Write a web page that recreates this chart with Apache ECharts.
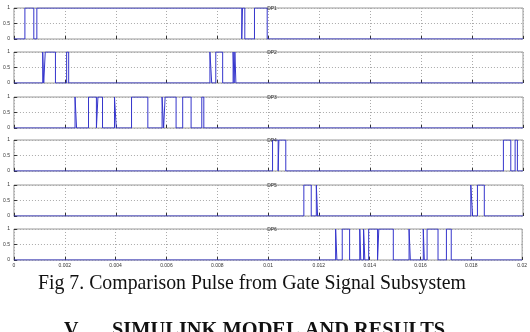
<!DOCTYPE html>
<html>
<head>
<meta charset="utf-8">
<script src="https://cdn.jsdelivr.net/npm/echarts@6/dist/echarts.min.js"></script>
<style>
  html, body { margin: 0; padding: 0; background: #ffffff; }
  #chart { width: 530px; height: 332px; }
</style>
</head>
<body>
<div id="chart"></div>
<script>
// switching instants (s) of each gate pulse, every trace starts low
var dp1Edges = [0.00043, 0.00078, 0.0009, 0.00895, 0.00898, 0.00907, 0.00945, 0.00995]
var dp2Edges = [0.00113, 0.00117, 0.00123, 0.00163, 0.00207, 0.00215, 0.0077, 0.00777,
  0.00793, 0.0082, 0.00861, 0.00865, 0.00868, 0.00872]
var dp3Edges = [0.0024, 0.00246, 0.00293, 0.00324, 0.0033, 0.00348, 0.00395, 0.00402,
  0.00462, 0.00526, 0.00582, 0.00588, 0.00594, 0.00637, 0.00663, 0.00696, 0.00738, 0.00746]
var dp4Edges = [0.01016, 0.01038, 0.01041, 0.01068, 0.01923, 0.01952, 0.01969, 0.01978]
var dp5Edges = [0.01139, 0.01168, 0.01188, 0.01193, 0.01795, 0.01802, 0.01821, 0.01848]
var dp6Edges = [0.01266, 0.01271, 0.01292, 0.01321, 0.01361, 0.01365, 0.01376, 0.01381,
  0.01396, 0.01431, 0.01436, 0.01493, 0.01555, 0.0156, 0.01611, 0.01615, 0.01626,
  0.01669, 0.01702, 0.01721]

var traceNames = ['DP1', 'DP2', 'DP3', 'DP4', 'DP5', 'DP6']
var traceEdges = [dp1Edges, dp2Edges, dp3Edges, dp4Edges, dp5Edges, dp6Edges]
var timeTicks = [0, 0.002, 0.004, 0.006, 0.008, 0.01, 0.012, 0.014, 0.016, 0.018, 0.02]
var levelTicks = [0, 0.5, 1]

var caption = 'Fig 7. Comparison Pulse from Gate Signal Subsystem'
var sectionNo = 'V.'
var sectionTitle = 'SIMULINK MODEL AND RESULTS'

var gridTops = [8, 52, 97, 140, 185, 229]
var gridH = 31

// square wave: hold the level, then jump straight up/down at each edge
function pulseData (edges) {
  var level = 0
  var out = [[timeTicks[0], level]]
  edges.forEach(function (t) {
    out.push([t, level])
    level = 1 - level
    out.push([t, level])
  })
  out.push([timeTicks[timeTicks.length - 1], level])
  return out
}

var grids = []
var xAxes = []
var yAxes = []
var series = []
var titles = []

traceNames.forEach(function (name, i) {
  grids.push({
    left: 11,
    right: 7,
    top: gridTops[i],
    height: gridH,
    show: true,
    borderColor: '#9a9a9a',
    borderWidth: 1
  })
  xAxes.push({
    type: 'value',
    gridIndex: i,
    min: timeTicks[0],
    max: timeTicks[timeTicks.length - 1],
    interval: 0.002,
    axisLine: { show: false },
    axisTick: { show: true, inside: true, length: 3, lineStyle: { color: '#333', width: 1 } },
    axisLabel: {
      show: i === traceNames.length - 1,
      fontSize: 5,
      color: '#333',
      margin: 3,
      formatter: function (v) { return String(+v.toFixed(3)) }
    },
    splitLine: { show: true, lineStyle: { color: '#aaaaaa', type: [1, 2], width: 1 } }
  })
  yAxes.push({
    type: 'value',
    gridIndex: i,
    min: levelTicks[0],
    max: levelTicks[levelTicks.length - 1],
    interval: 0.5,
    axisLine: { show: false },
    axisTick: { show: true, inside: true, length: 3, lineStyle: { color: '#333' } },
    axisLabel: { fontSize: 5, color: '#333', margin: 4 },
    splitLine: { show: true, lineStyle: { color: '#aaaaaa', type: [1, 2], width: 1 } }
  })
  series.push({
    name: name,
    type: 'line',
    xAxisIndex: i,
    yAxisIndex: i,
    symbol: 'none',
    silent: true,
    animation: false,
    sampling: null,
    lineStyle: { color: '#3535cc', width: 1 },
    data: pulseData(traceEdges[i])
  })
  titles.push({
    text: name,
    left: 267,
    top: gridTops[i] - 7,
    textAlign: 'center',
    textStyle: { fontSize: 5, fontWeight: 'normal', color: '#333' }
  })
})

var myChart = echarts.init(document.getElementById('chart'), null, { renderer: 'canvas' })
myChart.setOption({
  backgroundColor: '#ffffff',
  animation: false,
  title: titles,
  grid: grids,
  xAxis: xAxes,
  yAxis: yAxes,
  series: series,
  graphic: [{
    type: 'text',
    x: 38,
    y: 272,
    scaleX: 0.9,
    style: {
      text: caption,
      font: '22px "Liberation Serif"',
      fill: '#111'
    }
  }, {
    type: 'text',
    x: 64,
    y: 321,
    style: {
      text: sectionNo,
      font: 'bold 20px "Liberation Serif"',
      fill: '#111'
    }
  }, {
    type: 'text',
    x: 112,
    y: 321,
    scaleX: 1.02,
    style: {
      text: sectionTitle,
      font: 'bold 20px "Liberation Serif"',
      fill: '#111'
    }
  }]
})
</script>
</body>
</html>
